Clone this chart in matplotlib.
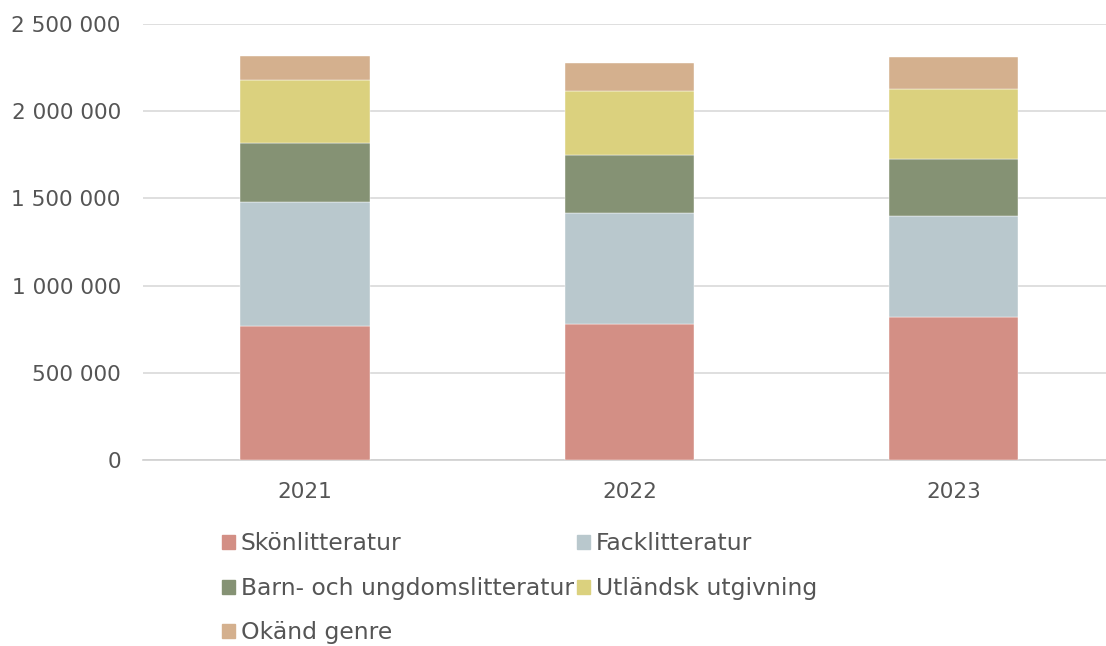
import matplotlib.pyplot as plt
import matplotlib.patches as mpatches
from matplotlib.ticker import FuncFormatter

# Data
years = ['2021', '2022', '2023']
skon = [768000, 782000, 822000]
fack = [709000, 635000, 577000]
barn = [338000, 334000, 329000]
utl = [365000, 365000, 400000]
okand = [136000, 162000, 183000]

series = [
    ('Skönlitteratur', skon, '#D38F85'),
    ('Facklitteratur', fack, '#B9C8CD'),
    ('Barn- och ungdomslitteratur', barn, '#859274'),
    ('Utländsk utgivning', utl, '#DBD17E'),
    ('Okänd genre', okand, '#D4B08E'),
]

plt.rcParams['font.family'] = ['DejaVu Sans']
text_color = '#555555'

fig = plt.figure(figsize=(11.06, 6.46), dpi=100)
ax = fig.add_axes([143 / 1106, 1 - 460 / 646, (1106 - 143) / 1106, (460 - 24) / 646])

x = list(range(len(years)))
bottom = [0] * len(years)
handles = {}
for label, vals, color in series:
    ax.bar(x, vals, width=0.40, bottom=bottom, color=color,
           edgecolor='white', linewidth=0.3, zorder=3)
    handles[label] = mpatches.Patch(color=color, label=label)
    bottom = [b + v for b, v in zip(bottom, vals)]

ax.set_xlim(-0.5, 2.47)
ax.set_ylim(0, 2500000)
ax.set_yticks(range(0, 2500001, 500000))
ax.yaxis.set_major_formatter(FuncFormatter(lambda v, p: f'{int(v):,}'.replace(',', ' ')))
ax.set_xticks(x)
ax.set_xticklabels(years)

ax.grid(axis='y', color='#D9D9D9', linewidth=1.2, zorder=0)
for s in ['top', 'right', 'left']:
    ax.spines[s].set_visible(False)
ax.spines['bottom'].set_color('#D0D0D0')
ax.spines['bottom'].set_linewidth(1.2)
ax.tick_params(axis='both', length=0, labelsize=15.6, colors=text_color)
ax.tick_params(axis='y', pad=16)
ax.tick_params(axis='x', pad=16)
for lbl in ax.get_yticklabels() + ax.get_xticklabels():
    lbl.set_color(text_color)

order = ['Skönlitteratur', 'Barn- och ungdomslitteratur', 'Okänd genre',
         'Facklitteratur', 'Utländsk utgivning']
leg = fig.legend([handles[k] for k in order], order, ncol=2, frameon=False,
                 loc='upper left', bbox_to_anchor=(0.2005, 0.176),
                 fontsize=16.9, handlelength=0.55, handleheight=0.55,
                 handletextpad=0.25, columnspacing=0.15, labelspacing=0.92,
                 borderpad=0, borderaxespad=0)
for t in leg.get_texts():
    t.set_color(text_color)

fig.savefig('out.png', dpi=100)
